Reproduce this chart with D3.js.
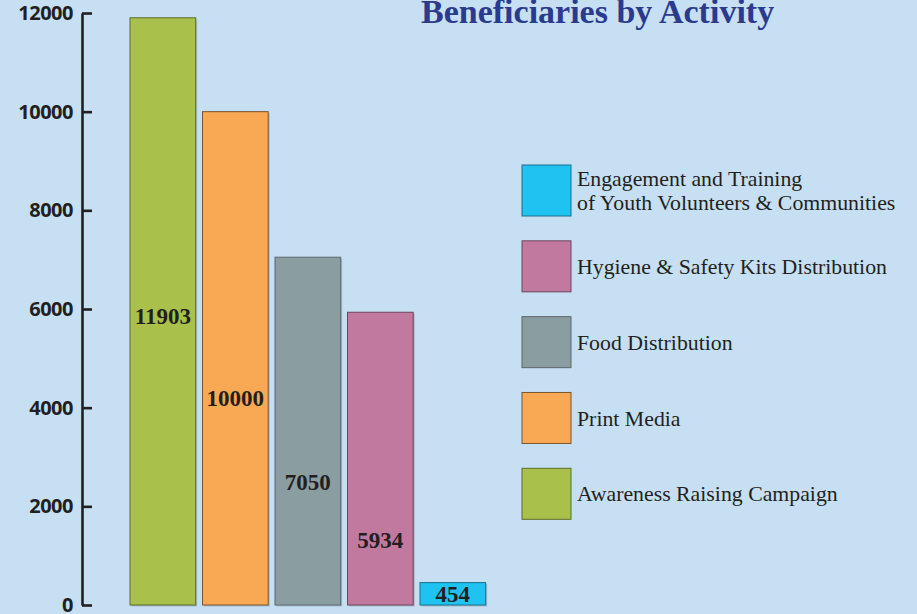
<!DOCTYPE html>
<html>
<head>
<meta charset="utf-8">
<script src="https://cdnjs.cloudflare.com/ajax/libs/d3/7.8.5/d3.min.js"></script>
<style>
  html, body { margin: 0; padding: 0; background: #c6dff2; }
  svg { display: block; }
</style>
</head>
<body>
<div id="chart"></div>
<script>
const categories = ['Awareness Raising Campaign', 'Print Media', 'Food Distribution',
  'Hygiene & Safety Kits Distribution', 'Engagement and Training of Youth Volunteers & Communities']
const values = [11903, 10000, 7050, 5934, 454]
// where the value label sits inside each bar (in data units)
const labelAt = [5850, 4200, 2500, 1320, 227]
const fills = ['#a9c14a', '#f9a853', '#8a9da1', '#c279a0', '#1fc3f1']
const strokes = ['#5f6b2a', '#7a5430', '#5c6668', '#6e4459', '#1a6f8c']
const yTicks = [0, 2000, 4000, 6000, 8000, 10000, 12000]
// legend goes top to bottom in reverse bar order
const legendLines = [
  ['Engagement and Training', 'of Youth Volunteers & Communities'],
  ['Hygiene & Safety Kits Distribution'],
  ['Food Distribution'],
  ['Print Media'],
  ['Awareness Raising Campaign']
]
const title = 'Beneficiaries by Activity'

const W = 917, H = 614
const svg = d3.select('#chart').append('svg').attr('width', W).attr('height', H)
svg.append('rect').attr('width', W).attr('height', H).attr('fill', '#c6dff2')

const y = d3.scaleLinear().domain([0, 12000]).range([605, 13])
const x = d3.scaleBand().domain(categories).range([126.6, 489.1])
  .paddingInner(0.094).paddingOuter(0.047)
const color = d3.scaleOrdinal().domain(categories).range(fills)
const edge = d3.scaleOrdinal().domain(categories).range(strokes)

// axis
const axis = svg.append('g').attr('transform', 'translate(82,0)')
d3.axisLeft(y).tickValues(yTicks).tickSizeInner(-10).tickSizeOuter(0).tickPadding(9)
  .tickFormat(d3.format('d'))(axis)
axis.select('.domain').attr('stroke', '#231f20').attr('stroke-width', 2.6)
axis.selectAll('.tick line').attr('stroke', '#231f20').attr('stroke-width', 2.6)
axis.selectAll('.tick text')
  .attr('fill', '#231f20')
  .style('font-family', '"Open Sans", sans-serif')
  .style('font-weight', 700)
  .style('font-size', '20px')
  .attr('letter-spacing', '-0.5')

const rows = categories.map((c, i) => ({ c, v: values[i], at: labelAt[i] }))

// soft shadow behind the bars
svg.append('g').selectAll('rect.shadow').data(rows).join('rect')
  .attr('class', 'shadow')
  .attr('x', d => x(d.c) + 1.5)
  .attr('y', d => y(d.v) + 1.5)
  .attr('width', x.bandwidth())
  .attr('height', d => y(0) - y(d.v))
  .attr('fill', '#8c9cab')
  .attr('opacity', 0.55)

svg.append('g').selectAll('rect.bar').data(rows).join('rect')
  .attr('class', 'bar')
  .attr('x', d => x(d.c))
  .attr('y', d => y(d.v))
  .attr('width', x.bandwidth())
  .attr('height', d => y(0) - y(d.v))
  .attr('fill', d => color(d.c))
  .attr('stroke', d => edge(d.c))
  .attr('stroke-width', 1)

svg.append('g').selectAll('text').data(rows).join('text')
  .attr('x', d => x(d.c) + x.bandwidth() / 2)
  .attr('y', d => y(d.at))
  .attr('dy', '0.35em')
  .attr('text-anchor', 'middle')
  .attr('fill', '#231f20')
  .style('font-family', '"Liberation Serif", serif')
  .style('font-weight', 700)
  .style('font-size', '23px')
  .text(d => d.v)

// title
svg.append('text')
  .attr('x', 421).attr('y', 23)
  .attr('fill', '#2b3a8f')
  .style('font-family', '"Liberation Serif", serif')
  .style('font-weight', 700)
  .style('font-size', '34px')
  .text(title)

// legend
const legendCats = categories.slice().reverse()
const ly = d3.scalePoint().domain(legendCats).range([165, 468.3])
const lg = svg.append('g').selectAll('g').data(legendCats).join('g')
  .attr('transform', d => `translate(522,${ly(d)})`)
lg.append('rect')
  .attr('width', 49).attr('height', 51)
  .attr('fill', d => color(d))
  .attr('stroke', d => edge(d))
  .attr('stroke-width', 1)
lg.append('text')
  .attr('fill', '#231f20')
  .style('font-family', '"Liberation Serif", serif')
  .style('font-size', '21.8px')
  .each(function (d, i) {
    const lines = legendLines[i]
    const t = d3.select(this)
    lines.forEach((l, j) => {
      t.append('tspan')
        .attr('x', 55)
        .attr('y', 25.5 + (j - (lines.length - 1) / 2) * 24.5)
        .attr('dy', '0.35em')
        .text(l)
    })
  })
</script>
</body>
</html>
